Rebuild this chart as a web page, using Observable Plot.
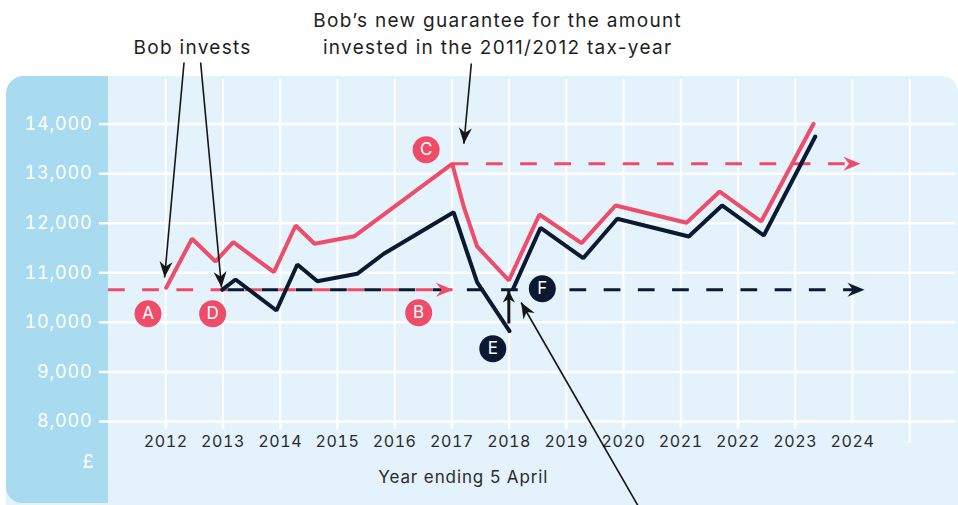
<!DOCTYPE html>
<html>
<head>
<meta charset="utf-8">
<script src="https://cdn.jsdelivr.net/npm/d3@7"></script>
<script src="https://cdn.jsdelivr.net/npm/@observablehq/plot@0.6"></script>
<style>
  html, body { margin: 0; padding: 0; background: #ffffff; }
  #wrap { position: relative; width: 958px; height: 505px; overflow: hidden; font-family: Inter, "Noto Sans", sans-serif; }
  #panel { position: absolute; left: 6px; top: 76px; width: 952px; height: 429px; background: #e3f2fb; border-radius: 18px 16px 0 0; }
  #strip { position: absolute; left: 6px; top: 76px; width: 102px; height: 427px; background: #a8dbef; border-radius: 18px 0 0 16px; }
  #chart { position: absolute; left: 0; top: 0; }
  [aria-label="notes"], [aria-label="notes"] text { letter-spacing: 1.3px; }
  [aria-label="axis title"], [aria-label="axis title"] text { letter-spacing: 0.9px; }
  g[aria-label="x-axis tick label"] text { letter-spacing: 0.6px; }
  g[aria-label="y-axis tick label"] text { letter-spacing: 0.8px; }
</style>
</head>
<body>
<div id="wrap"><div id="panel"></div><div id="strip"></div><div id="chart"></div></div>
<script>
// ---------- data ----------
const tickYears  = [2012, 2013, 2014, 2015, 2016, 2017, 2018, 2019, 2020, 2021, 2022, 2023];
const labelYears = [2012, 2013, 2014, 2015, 2016, 2017, 2018, 2019, 2020, 2021, 2022, 2023, 2024];
const gridYears  = [2012, 2013, 2014, 2015, 2016, 2017, 2018, 2019, 2020, 2021, 2022, 2023, 2024, 2025];
const valueTicks = [8000, 9000, 10000, 11000, 12000, 13000, 14000];

// Investment value (red)
const redYears  = [2012.008, 2012.46, 2012.87, 2013.18, 2013.89, 2014.27, 2014.60, 2015.30, 2017.006, 2017.21, 2017.44, 2017.995, 2018.53, 2019.265, 2019.86, 2021.10, 2021.68, 2022.405, 2023.32];
const redValues = [10698, 11686, 11228, 11618, 11012, 11954, 11585, 11739, 13199, 12324, 11531, 10845, 12176, 11597, 12358, 12009, 12640, 12035, 14006];

// Second investment value (navy), broken at the top-up
const navyYears  = [2012.99, 2013.22, 2013.935, 2014.30, 2014.65, 2015.345, 2015.81, 2017.03, 2017.44, 2018.007, 2018.07, 2018.55, 2019.295, 2019.89, 2021.14, 2021.72, 2022.45, 2023.35];
const navyValues = [10660, 10865, 10240, 11168, 10831, 10980, 11384, 12223, 10811, 9822, 10677, 11908, 11295, 12090, 11733, 12358, 11753, 13750];
const navyPhase  = ["before", "before", "before", "before", "before", "before", "before", "before", "before", "before", "after", "after", "after", "after", "after", "after", "after", "after"];

// Guarantee levels (dashed)
const guaranteeFrom   = [2011, 2012.99, 2017.006];
const guaranteeTo     = [2017.02, 2024.21, 2024.14];
const guaranteeLevel  = [10660, 10660, 13199];
const guaranteeSeries = ["red", "navy", "red"];

// Lettered markers
const markerText   = ["A", "B", "C", "D", "E", "F"];
const markerYear   = [2011.69, 2016.42, 2016.55, 2012.82, 2017.715, 2018.58];
const markerValue  = [10173, 10193, 13482, 10173, 9467, 10677];
const markerSeries = ["red", "red", "red", "red", "navy", "navy"];

// Pointer arrows
const arrowFromYear  = [2012.32, 2012.61, 2017.34, 2017.995, 2020.26];
const arrowFromValue = [15243, 15243, 15223, 9977, 6285];
const arrowToYear    = [2011.98, 2012.975, 2017.21, 2017.995, 2018.21];
const arrowToValue   = [10905, 10704, 13603, 10643, 10401];

// Notes
const noteText  = ["Bob invests", "Bob\u2019s new guarantee for the amount", "invested in the 2011/2012 tax-year"];
const noteYear  = [2012.47, 2017.80, 2017.80];
const noteValue = [15546, 16090, 15546];
const axisTitle = {text: "Year ending 5 April", year: 2017.20, value: 6870};
const unitLabel = {text: "\u00a3", year: 2010.64, value: 7179};

// ---------- build ----------
const RED = "#ef4c69", NAVY = "#0b1a31", INK = "#1e1e1e";
const W = 958, H = 505, mL = 108, mR = 3, mT = 79, mB = 84;
const xDomain = [2011, 2025.8], yDomain = [8000, 14900];
const xs = d3.scaleLinear(xDomain, [mL, W - mR]);
const ys = d3.scaleLinear(yDomain, [H - mB, mT]);

const red = redYears.map((x, i) => ({x, y: redValues[i]}));
const navy = navyYears.map((x, i) => ({x, y: navyValues[i], z: navyPhase[i]}));
const guarantees = guaranteeFrom.map((x1, i) => ({x1, x2: guaranteeTo[i], y: guaranteeLevel[i], s: guaranteeSeries[i]}));
const markers = markerText.map((t, i) => ({t, x: markerYear[i], y: markerValue[i], s: markerSeries[i]}));
const arrows = arrowFromYear.map((x1, i) => {
  const a = {x1, y1: arrowFromValue[i], x2: arrowToYear[i], y2: arrowToValue[i], i};
  const dx = xs(a.x2) - xs(a.x1), dy = ys(a.y2) - ys(a.y1);
  a.angle = Math.atan2(dx, -dy) * 180 / Math.PI;
  return a;
});
const notes = noteText.map((t, i) => ({t, x: noteYear[i], y: noteValue[i]}));

const dart = (len, half, notch) => ({
  draw(ctx) { ctx.moveTo(0, 0); ctx.lineTo(half, len); ctx.lineTo(0, len - notch); ctx.lineTo(-half, len); ctx.closePath(); }
});
const colorOf = s => s === "red" ? RED : NAVY;
const dash = "16.7,17.5";

const chart = Plot.plot({
  width: W, height: H,
  marginLeft: mL, marginRight: mR, marginTop: mT, marginBottom: mB,
  style: {background: "transparent", fontFamily: "Inter, 'Noto Sans', sans-serif", overflow: "visible"},
  x: {domain: xDomain, label: null},
  y: {domain: yDomain, label: null},
  marks: [
    Plot.gridY({ticks: valueTicks, stroke: "white", strokeOpacity: 1, strokeWidth: 2.5}),
    Plot.gridX({ticks: gridYears, stroke: "white", strokeOpacity: 1, strokeWidth: 2}),
    Plot.ruleX([2025], {y1: 8000, y2: 7556, stroke: "white", strokeWidth: 2}),
    Plot.axisY({ticks: valueTicks, tickSize: 9, tickPadding: 7, stroke: "white", strokeWidth: 2.5, fill: "white", fontSize: 18, tickFormat: d3.format(","), label: null}),
    Plot.axisX({ticks: tickYears, tickSize: 8, stroke: "white", strokeWidth: 2.5, tickFormat: () => "", label: null}),
    Plot.axisX({ticks: labelYears, tickSize: 0, tickPadding: 14, fill: "#2b2b2b", fontSize: 16, tickFormat: d => String(d), label: null}),
    Plot.text([axisTitle], {x: "year", y: "value", text: "text", fill: "#2b2b2b", fontSize: 17, ariaLabel: () => "axis title"}),
    Plot.text([unitLabel], {x: "year", y: "value", text: "text", fill: "white", fontSize: 18}),

    // dashed guarantee levels
    Plot.ruleY(guarantees.filter(d => d.s === "navy"), {y: "y", x1: "x1", x2: "x2", stroke: NAVY, strokeWidth: 3, strokeDasharray: dash, strokeDashoffset: 28.6}),
    Plot.ruleY(guarantees.filter(d => d.s === "red"), {y: "y", x1: "x1", x2: "x2", stroke: RED, strokeWidth: 3, strokeDasharray: dash}),
    Plot.dot(guarantees, {x: "x2", y: "y", symbol: dart(17, 7, 5.5), rotate: 90, fill: d => colorOf(d.s), stroke: null}),

    // value lines
    Plot.line(red, {x: "x", y: "y", stroke: RED, strokeWidth: 4, strokeLinejoin: "miter", strokeLinecap: "round"}),
    Plot.line(navy, {x: "x", y: "y", z: "z", stroke: NAVY, strokeWidth: 4, strokeLinejoin: "miter", strokeLinecap: "round"}),

    // lettered markers
    Plot.dot(markers, {x: "x", y: "y", r: 13.5, fill: d => colorOf(d.s), stroke: null}),
    Plot.text(markers, {x: "x", y: "y", text: "t", fill: "white", fontSize: 17}),

    // pointer arrows
    Plot.link(arrows.filter(d => d.i !== 3), {x1: "x1", y1: "y1", x2: "x2", y2: "y2", stroke: "#161616", strokeWidth: 1.6}),
    Plot.link(arrows.filter(d => d.i === 3), {x1: "x1", y1: "y1", x2: "x2", y2: "y2", stroke: "#161616", strokeWidth: 3}),
    Plot.dot(arrows.filter(d => d.i !== 3), {x: "x2", y: "y2", rotate: "angle", symbol: dart(16, 6.5, 5), fill: "#161616", stroke: null}),
    Plot.dot(arrows.filter(d => d.i === 3), {x: "x2", y: "y2", rotate: "angle", symbol: dart(12, 6, 3.5), fill: "#161616", stroke: null}),

    // notes
    Plot.text(notes, {x: "x", y: "y", text: "t", fill: INK, fontSize: 19, ariaLabel: () => "notes"})
  ]
});
document.getElementById("chart").appendChild(chart);
</script>
</body>
</html>
